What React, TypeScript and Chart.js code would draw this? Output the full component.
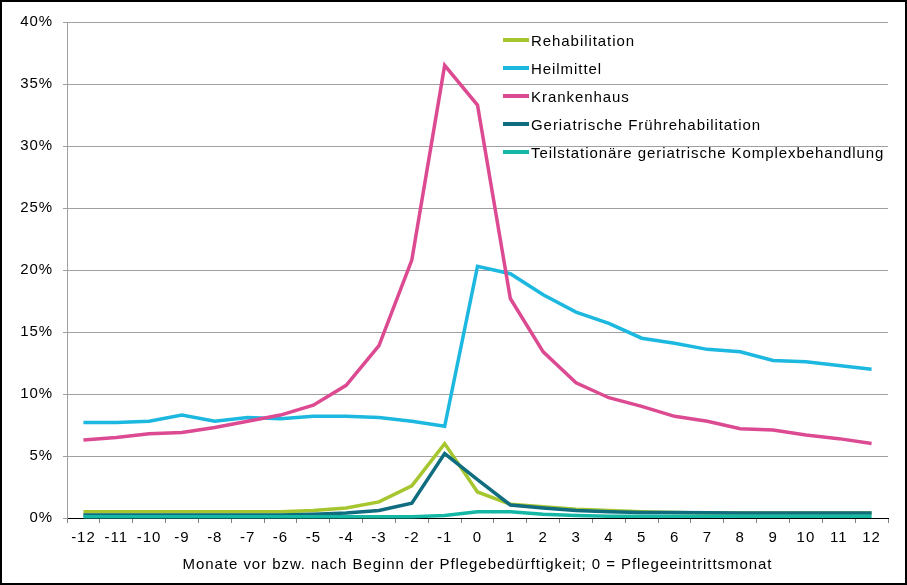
import React, { useEffect, useRef } from "react";
import { Chart, registerables } from "chart.js";

Chart.register(...registerables);

const months = ["-12","-11","-10","-9","-8","-7","-6","-5","-4","-3","-2","-1","0","1","2","3","4","5","6","7","8","9","10","11","12"];

const rehabilitation = [0.5,0.5,0.5,0.5,0.5,0.5,0.5,0.6,0.8,1.3,2.6,6.0,2.1,1.1,0.9,0.7,0.6,0.5,0.45,0.4,0.4,0.4,0.4,0.4,0.4];
const heilmittel = [7.7,7.7,7.8,8.3,7.8,8.1,8.0,8.2,8.2,8.1,7.8,7.4,20.3,19.7,18.0,16.6,15.7,14.5,14.1,13.6,13.4,12.7,12.6,12.3,12.0];
const krankenhaus = [6.3,6.5,6.8,6.9,7.3,7.8,8.3,9.1,10.7,13.9,20.8,36.5,33.3,17.7,13.4,10.9,9.7,9.0,8.2,7.8,7.2,7.1,6.7,6.4,6.0];
const geriatrischeFrueh = [0.25,0.25,0.25,0.25,0.25,0.25,0.25,0.3,0.4,0.6,1.2,5.2,3.1,1.05,0.8,0.6,0.5,0.45,0.45,0.42,0.4,0.4,0.4,0.4,0.4];
const teilstationaer = [0.1,0.1,0.1,0.1,0.1,0.1,0.1,0.1,0.1,0.1,0.1,0.2,0.5,0.5,0.3,0.2,0.15,0.15,0.15,0.15,0.15,0.15,0.15,0.15,0.15];

const yTicks = [0, 5, 10, 15, 20, 25, 30, 35, 40];

const seriesNames = ["Rehabilitation","Heilmittel","Krankenhaus","Geriatrische Frührehabilitation","Teilstationäre geriatrische Komplexbehandlung"];
const seriesColors = ["#a6c62f","#1cb8df","#dc4a92","#0f6d7f","#15b8a4"];
const seriesData = [rehabilitation, heilmittel, krankenhaus, geriatrischeFrueh, teilstationaer];

const FONT = '"Liberation Sans", Arial, sans-serif';
const SPACING = "0.94px";

const spacingPlugin = {
  id: "spacing",
  beforeLayout(chart: any) { chart.ctx.letterSpacing = SPACING; },
  beforeDraw(chart: any) { chart.ctx.letterSpacing = SPACING; },
};

export default function App() {
  const ref = useRef<HTMLCanvasElement | null>(null);
  useEffect(() => {
    if (!ref.current) return;
    const chart = new Chart(ref.current, {
      type: "line",
      data: {
        labels: months,
        datasets: seriesData.map((d, i) => ({
          label: seriesNames[i],
          data: d,
          borderColor: seriesColors[i],
          backgroundColor: seriesColors[i],
          borderWidth: 3.5,
          pointRadius: 0,
          tension: 0,
          order: 5 - i,
          clip: false as any,
        })),
      },
      plugins: [spacingPlugin],
      options: {
        animation: false,
        responsive: false,
        maintainAspectRatio: false,
        layout: { padding: { left: 0, right: 19, top: 22, bottom: 0 } },
        plugins: { legend: { display: false }, tooltip: { enabled: false } },
        scales: {
          x: {
            offset: true,
            grid: { display: true, drawOnChartArea: false, drawTicks: true, tickLength: 5, color: "#808080", offset: true },
            border: { display: true, color: "#000000", width: 1 },
            ticks: { color: "#000", font: { family: FONT, size: 15 }, padding: 6, maxRotation: 0, autoSkip: false },
            title: { display: true, text: "Monate vor bzw. nach Beginn der Pflegebedürftigkeit; 0 = Pflegeeintrittsmonat", color: "#000", font: { family: FONT, size: 15 }, padding: { top: 0, bottom: 11 } },
            afterFit: (s: any) => { s.height = 67; },
          },
          y: {
            min: 0,
            max: 40,
            afterBuildTicks: (s: any) => { s.ticks = yTicks.map((v) => ({ value: v })); },
            grid: { color: "#a0a0a0", tickLength: 4, drawTicks: true },
            border: { display: true, color: "#a0a0a0", width: 1 },
            ticks: { color: "#000", font: { family: FONT, size: 15 }, padding: 10, callback: (v: any) => v + "%" },
            afterFit: (s: any) => { s.width = 67; },
          },
        },
      },
    });
    return () => chart.destroy();
  }, []);

  return (
    <div style={{ position: "fixed", left: 0, top: 0, width: 907, height: 585, background: "#fff" }}>
      <canvas ref={ref} width={907} height={585} style={{ position: "absolute", left: 0, top: 0, width: 907, height: 585 }} />
      <div style={{ position: "absolute", left: 0, top: 0, width: 907, height: 585, boxSizing: "border-box", border: "2px solid #000", pointerEvents: "none" }} />
      {seriesNames.map((n, i) => (
        <div key={n} style={{ position: "absolute", left: 503, top: 40 + i * 28 - 10, height: 20, display: "flex", alignItems: "center", fontFamily: FONT, fontSize: 15, letterSpacing: SPACING, color: "#000", whiteSpace: "nowrap" }}>
          <div style={{ width: 26, height: 3.5, background: seriesColors[i], marginRight: 2 }} />
          <span>{n}</span>
        </div>
      ))}
    </div>
  );
}
